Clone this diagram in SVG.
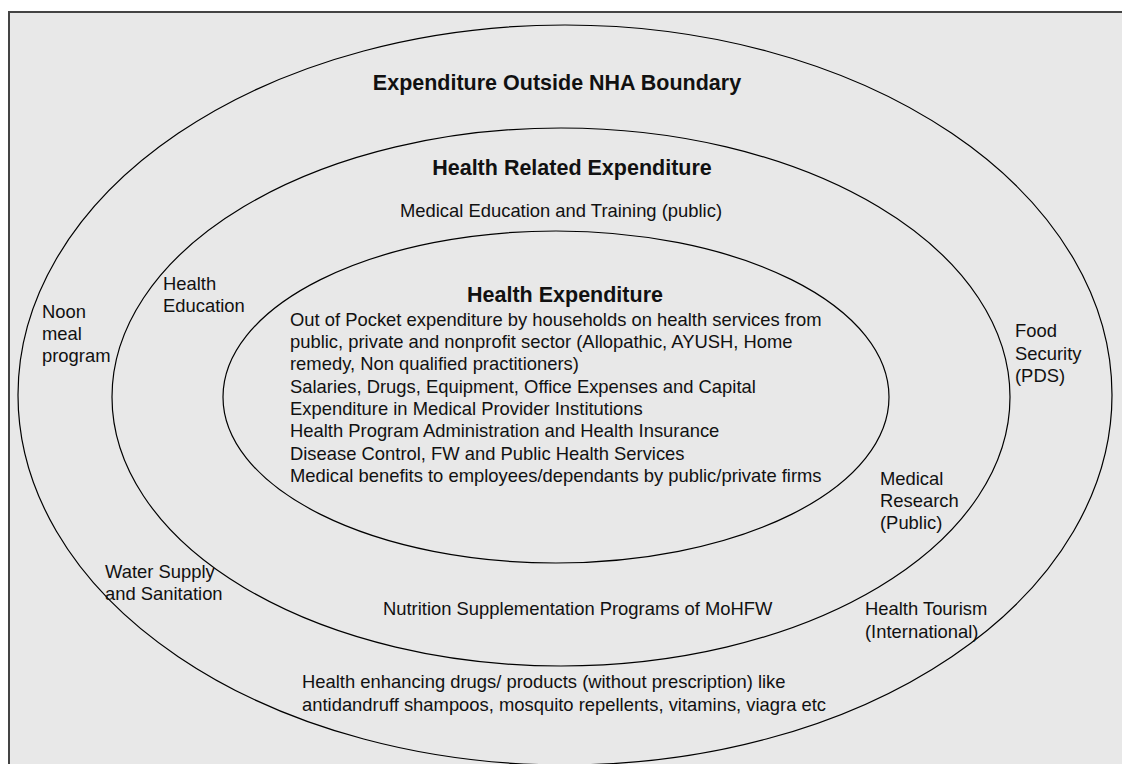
<svg xmlns="http://www.w3.org/2000/svg" width="1122" height="764" viewBox="0 0 1122 764">
<style>
.ring{fill:none;stroke:#000;stroke-width:1.2}
.t{font-family:"Liberation Sans",Arial,sans-serif;font-size:18.4px;fill:#111}
.b{font-family:"Liberation Sans",Arial,sans-serif;font-size:21.5px;font-weight:bold;fill:#111;text-anchor:middle}
</style>
<rect x="0" y="0" width="1122" height="764" fill="#fff"/>
<rect id="frame" x="9" y="12" width="1125" height="770" fill="#e8e8e8" stroke="#444" stroke-width="2"/>
<g id="connectors"></g>
<g id="outer">
<ellipse class="ring" cx="565" cy="395" rx="547" ry="370"/>
<text class="b" x="557" y="90">Expenditure Outside NHA Boundary</text>
</g>
<g id="middle">
<ellipse class="ring" cx="561" cy="397" rx="449" ry="269"/>
<text class="b" x="572" y="175">Health Related Expenditure</text>
<text class="t" x="561" y="217" text-anchor="middle">Medical Education and Training (public)</text>
</g>
<g id="inner">
<ellipse class="ring" cx="556" cy="397" rx="333" ry="166"/>
<text class="b" x="565" y="302">Health Expenditure</text>
<text class="t" x="290" y="326">Out of Pocket expenditure by households on health services from</text>
<text class="t" x="290" y="348">public, private and nonprofit sector (Allopathic, AYUSH, Home</text>
<text class="t" x="290" y="370">remedy, Non qualified practitioners)</text>
<text class="t" x="290" y="393">Salaries, Drugs, Equipment, Office Expenses and Capital</text>
<text class="t" x="290" y="415">Expenditure in Medical Provider Institutions</text>
<text class="t" x="290" y="437">Health Program Administration and Health Insurance</text>
<text class="t" x="290" y="460">Disease Control, FW and Public Health Services</text>
<text class="t" x="290" y="482">Medical benefits to employees/dependants by public/private firms</text>
</g>
<g id="noon-meal"><text class="t" x="42" y="318">Noon</text><text class="t" x="42" y="340">meal</text><text class="t" x="42" y="362">program</text></g>
<g id="health-education"><text class="t" x="163" y="290">Health</text><text class="t" x="163" y="312">Education</text></g>
<g id="food-security"><text class="t" x="1015" y="337">Food</text><text class="t" x="1015" y="360">Security</text><text class="t" x="1015" y="382">(PDS)</text></g>
<g id="medical-research"><text class="t" x="880" y="485">Medical</text><text class="t" x="880" y="507">Research</text><text class="t" x="880" y="529">(Public)</text></g>
<g id="water-supply"><text class="t" x="105" y="578">Water Supply</text><text class="t" x="105" y="600">and Sanitation</text></g>
<g id="nutrition"><text class="t" x="383" y="615">Nutrition Supplementation Programs of MoHFW</text></g>
<g id="health-tourism"><text class="t" x="865" y="615">Health Tourism</text><text class="t" x="865" y="638">(International)</text></g>
<g id="health-enhancing"><text class="t" x="302" y="688">Health enhancing drugs/ products (without prescription) like</text><text class="t" x="302" y="711">antidandruff shampoos, mosquito repellents, vitamins, viagra etc</text></g>
</svg>
